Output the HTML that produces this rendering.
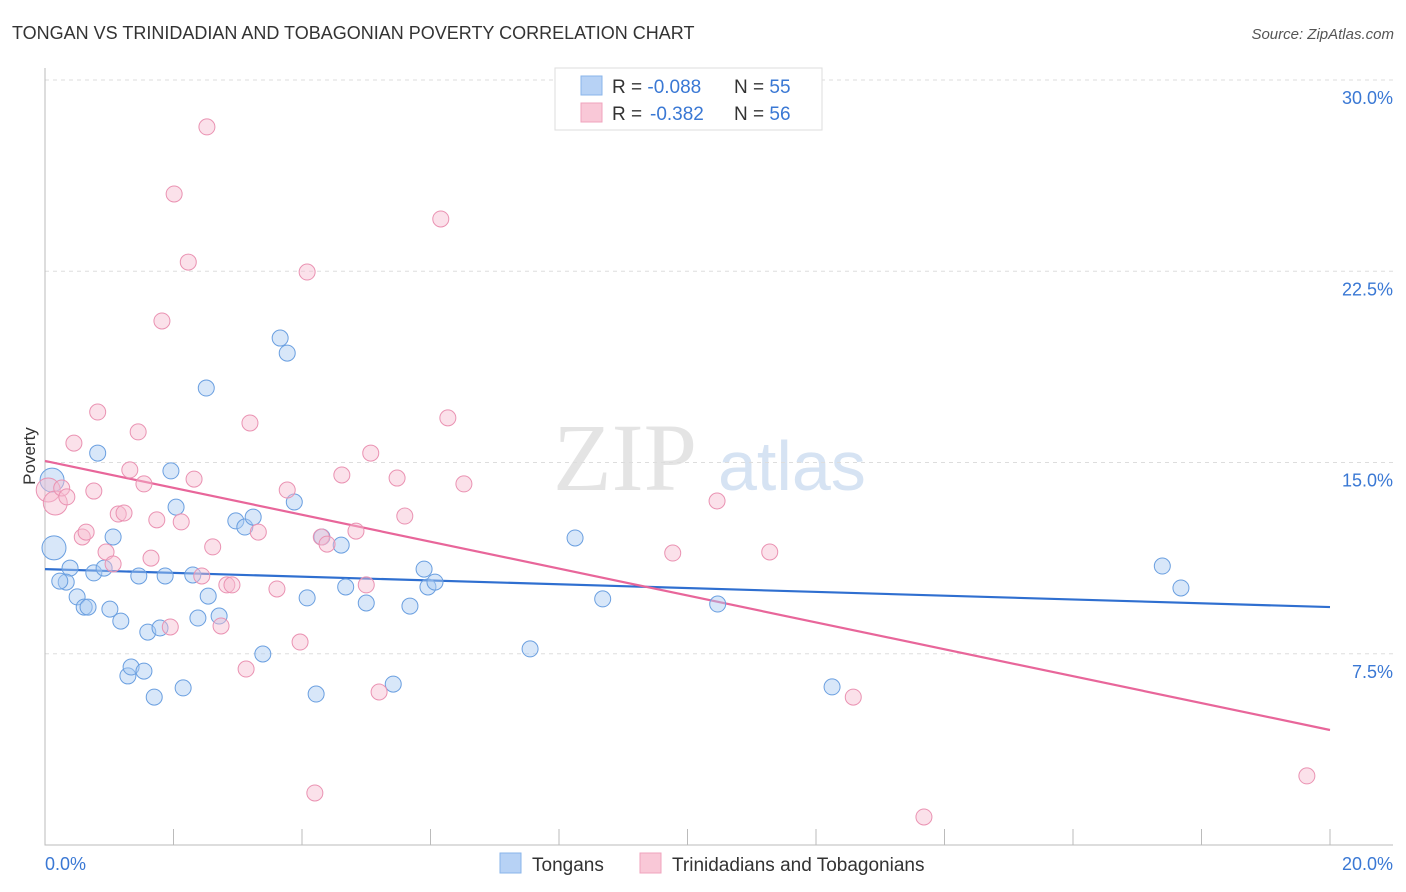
<!DOCTYPE html>
<html><head><meta charset="utf-8"><style>
body{margin:0;background:#fff;font-family:"Liberation Sans",sans-serif;}
#wrap{position:relative;width:1406px;height:892px;overflow:hidden;}
</style></head><body>
<div id="wrap">
<svg id="chart" width="1406" height="892" style="position:absolute;left:0;top:0">
<text x="12" y="39" font-size="18" fill="#333">TONGAN VS TRINIDADIAN AND TOBAGONIAN POVERTY CORRELATION CHART</text>
<text x="1394" y="39" font-size="15" fill="#555" text-anchor="end" font-style="italic">Source: ZipAtlas.com</text>
<text x="35" y="456" font-size="17" fill="#333" text-anchor="middle" transform="rotate(-90 35 456)">Poverty</text>
<text x="553" y="490" font-size="96" fill="#e4e4e4" font-family="Liberation Serif">ZIP</text>
<text x="718" y="490" font-size="70" fill="#d6e3f3">atlas</text>
<g id="grid"></g><g id="axes"></g><g id="lines"></g><g id="pts"></g>
<g>
<rect x="555" y="68" width="267" height="62" fill="#fff" stroke="#ddd"/>
<rect x="581" y="76" width="21" height="19" fill="#b7d2f5" stroke="#8ab4ea"/>
<rect x="581" y="103" width="21" height="19" fill="#f9c8d7" stroke="#f0a3bd"/>
<text x="612" y="93" font-size="19" fill="#333">R = <tspan fill="#3a78d4">-0.088</tspan><tspan x="734">N = </tspan><tspan fill="#3a78d4">55</tspan></text>
<text x="612" y="120" font-size="19" fill="#333">R = <tspan x="650" fill="#3a78d4">-0.382</tspan><tspan x="734">N = </tspan><tspan fill="#3a78d4">56</tspan></text>
</g>
<g>
<rect x="500" y="853" width="21" height="20" fill="#b7d2f5" stroke="#8ab4ea"/>
<text x="532" y="871" font-size="19" fill="#333">Tongans</text>
<rect x="640" y="853" width="21" height="20" fill="#f9c8d7" stroke="#f0a3bd"/>
<text x="672" y="871" font-size="19" fill="#333">Trinidadians and Tobagonians</text>
</g>
</svg>
</div>
<script>
const xTicksLabels=["0.0%","20.0%"];
const yTicks=[7.5,15,22.5,30];
const yTickLabels=["7.5%","15.0%","22.5%","30.0%"];
const blueX=[0.11,0.14,0.39,0.33,0.23,0.50,0.61,0.67,0.76,0.92,0.82,1.06,1.01,1.18,1.46,1.29,1.34,1.54,1.60,1.70,1.79,1.87,1.96,2.04,2.15,2.30,2.38,2.51,2.54,2.71,2.97,3.11,3.24,3.39,3.66,3.77,3.88,4.08,4.22,4.31,4.61,4.68,5.00,5.42,5.68,5.90,5.96,6.07,7.55,8.25,8.68,10.47,12.25,17.39,17.68];
const blueY=[14.31,11.65,10.86,10.31,10.35,9.73,9.33,9.33,10.67,10.86,15.37,12.08,9.25,8.78,10.55,6.63,6.98,6.82,8.35,5.80,8.51,10.55,14.67,13.25,6.16,10.59,8.90,17.92,9.76,8.98,12.71,12.47,12.86,7.49,19.88,19.29,13.45,9.69,5.92,12.08,11.76,10.12,9.49,6.31,9.37,10.82,10.12,10.31,7.69,12.04,9.65,9.45,6.20,10.94,10.08];
const pinkX=[0.05,0.16,0.26,0.34,0.45,0.58,0.64,0.76,0.82,0.95,1.06,1.14,1.23,1.32,1.45,1.54,1.65,1.74,1.82,1.95,2.01,2.12,2.23,2.32,2.44,2.52,2.61,2.74,2.83,2.91,3.13,3.19,3.32,3.61,3.77,3.97,4.08,4.20,4.30,4.39,4.62,4.84,5.00,5.07,5.20,5.48,5.60,6.16,6.27,6.52,9.77,10.46,11.28,12.58,13.68,19.64];
const pinkY=[13.92,13.41,14.00,13.65,15.76,12.08,12.27,13.88,16.98,11.49,11.02,12.98,13.02,14.71,16.20,14.16,11.25,12.75,20.55,8.55,25.53,12.67,22.86,14.35,10.55,28.16,11.69,8.59,10.20,10.20,6.90,16.55,12.27,10.04,13.92,7.96,22.47,2.04,12.08,11.80,14.51,12.31,10.20,15.37,6.00,14.39,12.90,24.55,16.75,14.16,11.45,13.49,11.49,5.80,1.10,2.71];
const blueTrend=[10.82,9.33];
const pinkTrend=[15.06,4.51];
const NS="http://www.w3.org/2000/svg";
const X=v=>45+v/20*1285, Y=v=>845-v/30*765;
function mk(parent,tag,attrs){const e=document.createElementNS(NS,tag);for(const k in attrs)e.setAttribute(k,attrs[k]);document.getElementById(parent).appendChild(e);return e;}
yTicks.forEach((t,i)=>{
 const g=mk('grid','line',{x1:45,x2:1393,y1:Y(t),y2:Y(t),stroke:'#ddd','stroke-dasharray':'4,4'});
 
 
 const l=mk('axes','text',{x:1393,y:Y(t)+24,'text-anchor':'end','font-size':18,fill:'#3a78d4'});
 l.textContent=yTickLabels[i];
 
 
});
const ax=mk('axes','path',{d:'M45,68V845H1393',stroke:'#bbb',fill:'none'});


for(let i=0;i<=10;i++){
 const t=mk('axes','line',{x1:X(i*2),x2:X(i*2),y1:829,y2:845,stroke:'#bbb'});
 
 
}
[[0,'start',45],[20,'end',1393]].forEach((a,i)=>{
 const l=mk('axes','text',{x:a[2],y:870,'text-anchor':a[1],'font-size':18,fill:'#3a78d4'});
 l.textContent=xTicksLabels[i];
 
 
});
function pts(xs,ys,fill,stroke,name){
 xs.forEach((x,i)=>{
  const big=x<0.2&&i<2;
  const c=mk('pts','circle',{cx:X(x),cy:Y(ys[i]),r:big?12:8,fill:fill,'fill-opacity':0.45,stroke:stroke,'stroke-width':1});
  
  
 });
}
pts(blueX,blueY,'#a9c9f2','#6a9fe0','tongan-point');
pts(pinkX,pinkY,'#f7bdd0','#ea92b2','trinidadian-point');
const bl=mk('lines','line',{x1:X(0),y1:Y(blueTrend[0]),x2:X(20),y2:Y(blueTrend[1]),stroke:'#2f6fd0','stroke-width':2.2});


const pl=mk('lines','line',{x1:X(0),y1:Y(pinkTrend[0]),x2:X(20),y2:Y(pinkTrend[1]),stroke:'#e8669a','stroke-width':2.2});


</script>
</body></html>
